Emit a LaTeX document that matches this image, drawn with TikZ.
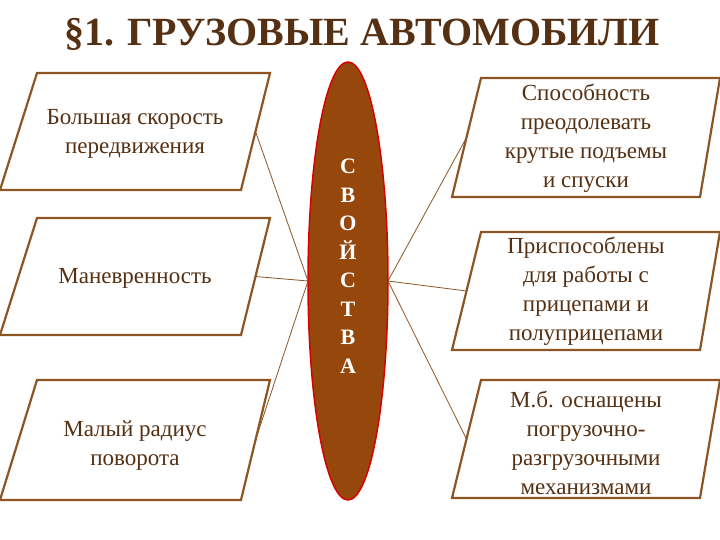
\documentclass[tikz,border=0pt]{standalone}
\usepackage{fontspec}
\setmainfont{Liberation Serif}
\usetikzlibrary{shapes.geometric}
\definecolor{bord}{RGB}{140,85,35}
\definecolor{txt}{RGB}{85,48,18}
\definecolor{ellf}{RGB}{150,72,12}
\begin{document}
\begin{tikzpicture}[x=1pt,y=-1pt,
  box/.style={draw=bord,line width=2.2pt,fill=white},
  lbl/.style={align=center,text=txt,font=\fontsize{23}{29}\selectfont},
  conn/.style={draw=bord,line width=0.8pt}]
\useasboundingbox (0,0) rectangle (720,540);
\node[text=txt,font=\bfseries\fontsize{40}{42}\selectfont] (title) at (362,34) {§1. ГРУЗОВЫЕ АВТОМОБИЛИ};
\node[ellipse,draw=red!85!black,line width=1.5pt,fill=ellf,minimum width=80pt,minimum height=438pt,inner sep=0pt] (ell) at (348,281) {};
\node[text=white,font=\bfseries\fontsize{22}{28.5}\selectfont,align=center] (sv) at (348,266) {С\\В\\О\\Й\\С\\Т\\В\\А};
\coordinate (eL) at (308,281);
\coordinate (eR) at (388,281);
\foreach \n/\t/\b in {l1/73/190,l2/218/335,l3/380/500}{
  \draw[box] (37,\t) -- (270,\t) -- (241,\b) -- (0,\b) -- cycle;
  \coordinate (\n) at (255.5,{(\t+\b)/2});
}
\foreach \n/\t/\b in {r1/78/197,r2/232/350,r3/380/498}{
  \draw[box] (481,\t) -- (720,\t) -- (700,\b) -- (452,\b) -- cycle;
  \coordinate (\n) at (466.5,{(\t+\b)/2});
}
\node[lbl] (tl1) at (135,134) {Большая скорость\\передвижения};
\node[lbl] (tl2) at (135,278) {Маневренность};
\node[lbl] (tl3) at (135,446) {Малый радиус\\поворота};
\node[lbl] (tr1) at (586,138) {Способность\\преодолевать\\крутые подъемы\\и спуски};
\node[lbl] (tr2) at (586,291) {Приспособлены\\для работы с\\прицепами и\\полуприцепами};
\node[lbl] (tr3) at (586,443) {М.б. оснащены\\погрузочно-\\разгрузочными\\механизмами};
\draw[conn] (l1) -- (eL); \draw[conn] (l2) -- (eL); \draw[conn] (l3) -- (eL);
\draw[conn] (r1) -- (eR); \draw[conn] (r2) -- (eR); \draw[conn] (r3) -- (eR);
\end{tikzpicture}
\end{document}
